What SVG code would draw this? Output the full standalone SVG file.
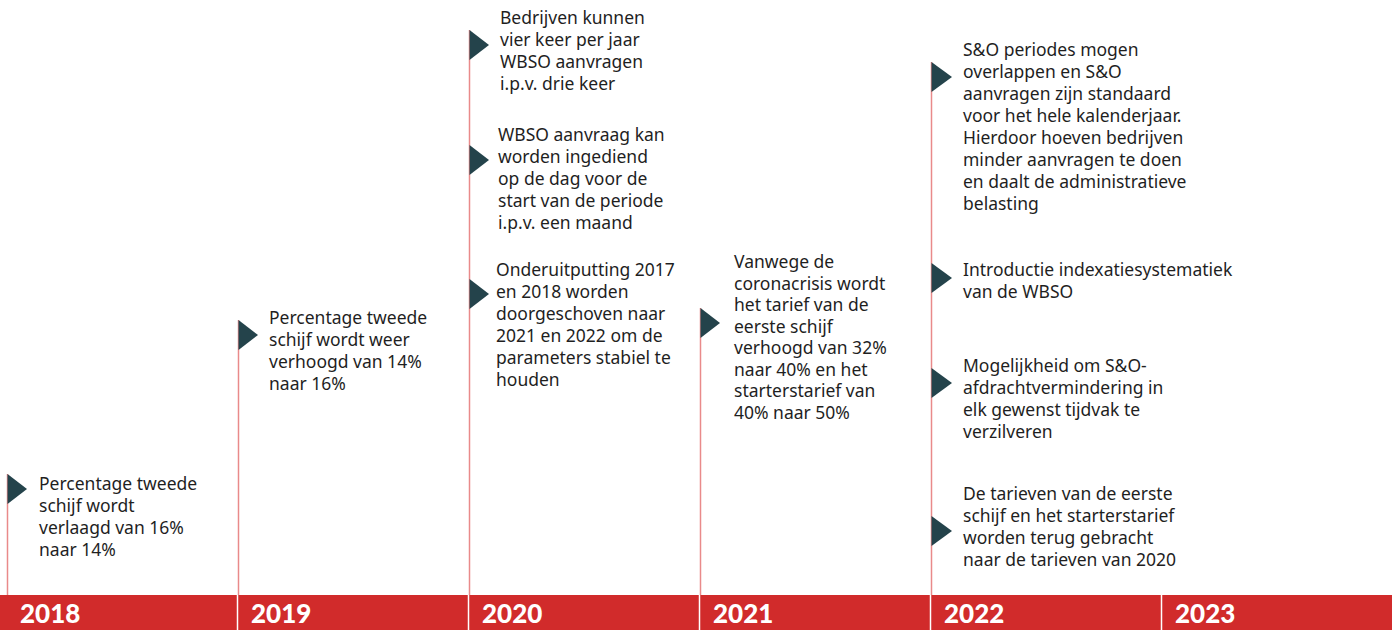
<svg xmlns="http://www.w3.org/2000/svg" width="1392" height="630" viewBox="0 0 1392 630">
<style>
.t{font-family:"Noto Sans",Lato,sans-serif;font-size:17.5px;fill:#1f1f1f}
.y{font-family:Lato,"Liberation Sans",sans-serif;font-size:26px;font-weight:900;fill:#ffffff}
.ln{stroke:#e98a8a;stroke-width:1.5;fill:none}
.sep{stroke:#ffffff;stroke-width:1.5}
.tri{fill:#24434b}
</style>
<rect width="1392" height="630" fill="#ffffff"/>
<g id="connectors">
<line class="ln" x1="7.5" y1="474" x2="7.5" y2="596"/>
<line class="ln" x1="238.5" y1="320" x2="238.5" y2="596"/>
<line class="ln" x1="469.5" y1="30" x2="469.5" y2="596"/>
<line class="ln" x1="700.5" y1="308" x2="700.5" y2="596"/>
<line class="ln" x1="931.5" y1="62" x2="931.5" y2="596"/>
</g>
<g id="timeline-bar">
<rect x="0" y="595" width="1392" height="35" fill="#d12b2b"/>
<line class="sep" x1="237.5" y1="595" x2="237.5" y2="630"/>
<line class="sep" x1="468.5" y1="595" x2="468.5" y2="630"/>
<line class="sep" x1="699.5" y1="595" x2="699.5" y2="630"/>
<line class="sep" x1="930.5" y1="595" x2="930.5" y2="630"/>
<line class="sep" x1="1161.5" y1="595" x2="1161.5" y2="630"/>
<text class="y" x="20" y="623">2018</text>
<text class="y" x="251" y="623">2019</text>
<text class="y" x="482" y="623">2020</text>
<text class="y" x="713" y="623">2021</text>
<text class="y" x="944" y="623">2022</text>
<text class="y" x="1175" y="623">2023</text>
</g>
<g id="n2018">
<polygon class="tri" points="7.5,474 27,489 7.5,504"/>
<text class="t"><tspan x="39" y="490">Percentage tweede</tspan><tspan x="39" y="512">schijf wordt</tspan><tspan x="39" y="534">verlaagd van 16%</tspan><tspan x="39" y="556">naar 14%</tspan></text>
</g>
<g id="n2019">
<polygon class="tri" points="238.5,320 258,335 238.5,350"/>
<text class="t"><tspan x="269" y="324">Percentage tweede</tspan><tspan x="269" y="346">schijf wordt weer</tspan><tspan x="269" y="368">verhoogd van 14%</tspan><tspan x="269" y="390">naar 16%</tspan></text>
</g>
<g id="n2020a">
<polygon class="tri" points="469.5,30 489,45 469.5,60"/>
<text class="t"><tspan x="500" y="24">Bedrijven kunnen</tspan><tspan x="500" y="46">vier keer per jaar</tspan><tspan x="500" y="68">WBSO aanvragen</tspan><tspan x="500" y="90">i.p.v. drie keer</tspan></text>
</g>
<g id="n2020b">
<polygon class="tri" points="469.5,145 489,160 469.5,175"/>
<text class="t"><tspan x="498" y="141">WBSO aanvraag kan</tspan><tspan x="498" y="163">worden ingediend</tspan><tspan x="498" y="185">op de dag voor de</tspan><tspan x="498" y="207">start van de periode</tspan><tspan x="498" y="229">i.p.v. een maand</tspan></text>
</g>
<g id="n2020c">
<polygon class="tri" points="469.5,279 489,294 469.5,309"/>
<text class="t"><tspan x="496" y="276">Onderuitputting 2017</tspan><tspan x="496" y="298">en 2018 worden</tspan><tspan x="496" y="320">doorgeschoven naar</tspan><tspan x="496" y="342">2021 en 2022 om de</tspan><tspan x="496" y="364">parameters stabiel te</tspan><tspan x="496" y="386">houden</tspan></text>
</g>
<g id="n2021">
<polygon class="tri" points="700.5,308 720,323 700.5,338"/>
<text class="t"><tspan x="734" y="268">Vanwege de</tspan><tspan x="734" y="289.5">coronacrisis wordt</tspan><tspan x="734" y="311">het tarief van de</tspan><tspan x="734" y="332.5">eerste schijf</tspan><tspan x="734" y="354">verhoogd van 32%</tspan><tspan x="734" y="375.5">naar 40% en het</tspan><tspan x="734" y="397">starterstarief van</tspan><tspan x="734" y="418.5">40% naar 50%</tspan></text>
</g>
<g id="n2022a">
<polygon class="tri" points="931.5,62 952,77 931.5,92"/>
<text class="t"><tspan x="963" y="56">S&amp;O periodes mogen</tspan><tspan x="963" y="78">overlappen en S&amp;O</tspan><tspan x="963" y="100">aanvragen zijn standaard</tspan><tspan x="963" y="122">voor het hele kalenderjaar.</tspan><tspan x="963" y="144">Hierdoor hoeven bedrijven</tspan><tspan x="963" y="166">minder aanvragen te doen</tspan><tspan x="963" y="188">en daalt de administratieve</tspan><tspan x="963" y="210">belasting</tspan></text>
</g>
<g id="n2022b">
<polygon class="tri" points="931.5,263 952,278 931.5,293"/>
<text class="t"><tspan x="963" y="276">Introductie indexatiesystematiek</tspan><tspan x="963" y="298">van de WBSO</tspan></text>
</g>
<g id="n2022c">
<polygon class="tri" points="931.5,368 952,383 931.5,398"/>
<text class="t"><tspan x="963" y="372">Mogelijkheid om S&amp;O-</tspan><tspan x="963" y="394">afdrachtvermindering in</tspan><tspan x="963" y="416">elk gewenst tijdvak te</tspan><tspan x="963" y="438">verzilveren</tspan></text>
</g>
<g id="n2022d">
<polygon class="tri" points="931.5,516 952,531 931.5,546"/>
<text class="t"><tspan x="963" y="500">De tarieven van de eerste</tspan><tspan x="963" y="522">schijf en het starterstarief</tspan><tspan x="963" y="544">worden terug gebracht</tspan><tspan x="963" y="566">naar de tarieven van 2020</tspan></text>
</g>
</svg>
